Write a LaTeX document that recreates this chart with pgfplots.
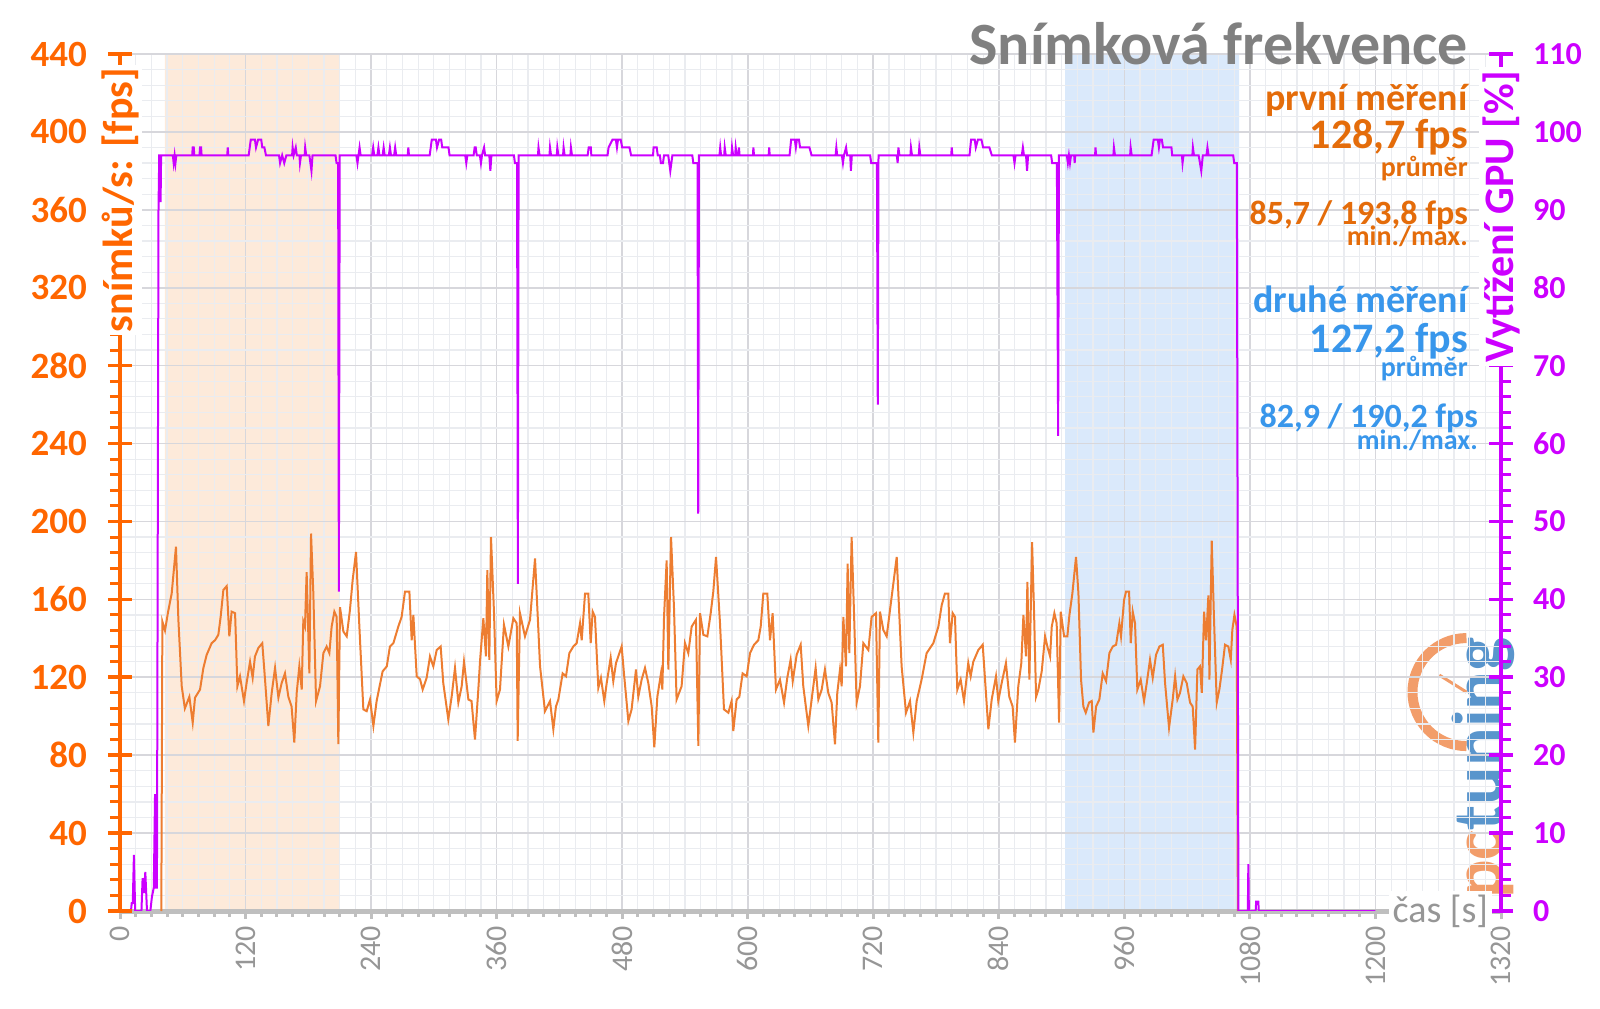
\documentclass[border=0pt]{standalone}
\usepackage{fontspec}
\setmainfont{Carlito}
\usepackage{pgfplots}
\pgfplotsset{compat=1.18}

\definecolor{orng}{RGB}{255,102,0}
\definecolor{annor}{RGB}{228,108,10}
\definecolor{annbl}{RGB}{56,150,235}
\definecolor{mag}{RGB}{204,0,255}
\definecolor{fpsc}{RGB}{237,125,49}
\definecolor{shor}{RGB}{253,234,218}
\definecolor{shbl}{RGB}{218,233,251}
\definecolor{gridmaj}{RGB}{215,215,220}
\definecolor{gridmin}{RGB}{234,236,240}
\definecolor{axgray}{RGB}{191,191,191}
\definecolor{xlab}{RGB}{150,150,150}
\definecolor{ttl}{RGB}{128,128,128}
\definecolor{logoor}{RGB}{240,140,80}
\definecolor{logobl}{RGB}{60,130,195}

\newcommand\fs[1]{\fontsize{#1}{#1}\selectfont}

\pgfplotsset{base/.style={at={(0,0)}, anchor=south west, scale only axis,
    width=690.5bp, height=428.5bp, xmin=0, xmax=1320,
    /pgf/number format/assume math mode=true, /pgf/number format/1000 sep={}}}

\begin{document}
\begin{tikzpicture}
\useasboundingbox (-60bp,-49bp) rectangle (740bp,455.5bp);

% measured intervals (background)
\begin{axis}[base, ymin=0, ymax=440, hide axis, clip=false]
\addplot[draw=none, fill=shor] coordinates {(43,0)(43,440)(209.3,440)(209.3,0)} \closedcycle;
\addplot[draw=none, fill=shbl] coordinates {(903.3,0)(903.3,440)(1069.6,440)(1069.6,0)} \closedcycle;
\node[rotate=90, anchor=west, inner sep=0, opacity=0.85, font=\fs{36bp}\bfseries]
  at (axis cs:1303,6) {\textcolor{logoor}{pc}\textcolor{logobl}{tuning}};
\draw[logoor, line width=5bp, opacity=0.85] (axis cs:1287,112.4) ++(90:27bp) arc[start angle=90, end angle=270, radius=27bp];
\draw[logoor, line width=1.5bp, opacity=0.85] (axis cs:1287,112.4) -- ++(148:16bp);
\end{axis}

% grid, time axis, fps
\begin{axis}[base, ymin=0, ymax=440,
    axis x line*=bottom, axis y line*=left,
    x axis line style={draw=axgray, line width=2.5bp, -},
    y axis line style={draw=none},
    xtick={0,120,...,1320}, ytick={0,40,...,440},
    minor x tick num=7, minor y tick num=4,
    grid=both,
    major grid style={draw=gridmaj, line width=0.8bp},
    minor grid style={draw=gridmin, line width=0.6bp},
    tick align=outside, major tick length=4bp,
    xtick style={draw=axgray, line width=1.5bp},
    ytick style={draw=none},
    minor tick style={draw=none},
    yticklabels={},
    xticklabel style={rotate=90, anchor=east, font=\fs{15bp}, text=xlab},
]
\addplot[fpsc, line width=1bp] coordinates {
(39.5,0)(40.5,148.6)(43,144)(46,153.7)(49.4,163)(53.5,187)(55.8,149.5)(59,115.4)(62,104)(66.3,110)(69.5,96.7)(71.7,109.5)(76.5,113.7)(79.7,124.8)(82.9,131.6)(87.6,137.5)(90.8,139)(94,141.8)(96.2,151)(98.8,164.8)(102,166.8)(104.5,141)(106.7,153.7)(110,152.9)(112.2,115.4)(114.7,120.5)(118.5,107.8)(121,117)(124.3,128)(126.8,119.7)(129,130.7)(132.2,135)(136,137.5)(138.6,119)(141.8,95)(145,112)(148.2,124.8)(151.4,109.5)(154.5,117)(157.7,122)(160.9,110)(164,105)(166.6,86.5)(168.9,112)(171.4,125.6)(173.7,113.7)(175.2,148.6)(176.8,146)(178.4,174)(181,122)(182.6,193.8)(184.8,163)(187.4,107.8)(191.2,115.4)(194.4,132.4)(197.5,135.8)(200.1,132.4)(202.3,146)(204.9,153.7)(207.1,151)(208.7,85.7)
(210.3,156)(213.5,143.5)(216.7,141)(219.8,154.6)(222.4,170)(225.6,184.3)(228.8,146)(232.6,103.5)(235.8,102.6)(239,108.6)(242.2,95)(245.3,107.8)(251,123)(255,125.6)(258,135.8)(261.3,137.5)(266,146)(269.2,151)(272.4,164)(276.6,164)(278.8,139)(280.4,152)(283.6,120.5)(286.8,119)(289.3,113.7)(293.1,119.7)(296.3,130.7)(299.5,125.6)(302.7,134)(306.5,135.8)(309,117)(313.8,98.4)(317,110)(320.2,124.8)(323.4,107)(326.6,115.4)(328.8,128)(333,108.6)(336,107.8)(339.3,88)(342.5,113.7)(344.1,128)(347.3,150.3)(349.8,130.7)(351.1,175)(353,129)(354.6,192)(357.5,152.9)(360,107.8)(363.2,113.7)(367,147)(371.2,135.8)(376,150.3)(379.2,147.7)(380.1,87.3)
(382.3,152.9)(387.1,141)(391.9,149.5)(396.7,181)(401.5,125.6)(406.2,102.6)(411,107.8)(414.2,93.3)(416.7,105)(419,108.6)(423.1,122)(426.3,120.5)(429.5,132.4)(433.3,135.8)(436.5,137.5)(439.7,147.7)(441.3,139)(444.5,163)(447.6,163)(449.9,137.5)(451.8,153.7)(454,151)(457.2,114.6)(459.7,119.7)(462.9,107.8)(465.2,117)(469,130)(471.5,118)(474.1,127.3)(479.5,135.8)(481.7,122)(485.9,97.5)(489,103.5)(493.2,124)(495.4,110)(498.6,118.8)(501.8,124.8)(505,117)(508.2,105)(510.7,84)(513.6,110)(517.1,122)(518.4,113.7)(520,151)(522.5,180)(524.1,124)(526.7,192)(529.5,156)(532,108.6)(536.8,115.4)(540,137.5)(543.2,132.4)(546.4,146)(550.5,149.5)(552.8,84.8)
(554.4,152.9)(557.6,141.8)(561.4,141)(564.6,152.9)(567.1,164)(569.7,181.8)(573.5,147.7)(577.3,103.5)(581.5,101.8)(584.6,107.8)(586.2,92.4)(589.4,108.6)(592,110)(595.1,122)(599,120.5)(602.2,132.4)(606,136.7)(610.1,139)(612.4,146)(614.9,163)(618.7,163)(621.3,139)(623.8,152.9)(627,113.7)(630.8,118.8)(634.7,107)(637.8,119.7)(641,129)(643,118)(646.8,131.6)(650.6,136.7)(653.1,115.4)(657.9,95)(661.1,108.6)(664.9,124.8)(667.5,108.6)(670.7,113.7)(673.8,124)(677,112)(680.2,107)(683.4,85.6)(685.6,112)(688.2,124)(689.8,115.4)(691.4,151)(693.9,125.6)(695.5,178.4)(697.1,132.4)(699.3,192)(701.6,152.9)(704.1,107)(707.3,115.4)(710.5,137.5)(715.3,134)(718.4,151)(722.6,152.9)(724.8,86.5)
(726.4,153.7)(729.6,144.3)(732.8,141)(736,154.6)(742.4,181.8)(747.1,125.6)(751.3,101.8)(755.1,107.8)(758.3,91.6)(761.5,107.8)(766.2,118.8)(771,132.4)(777.4,137.5)(782.2,146)(785.4,157)(788.5,163)(791.7,163)(793.3,137.5)(795.9,152.9)(798.1,151)(800.3,113.7)(803.5,118.8)(806.7,107.8)(810.8,127.3)(813.1,120.5)(815.6,128)(820.4,134)(824.6,136.7)(826.8,119)(830,93.3)(833.2,108.6)(837.3,120.5)(839.5,107.8)(842.7,117)(846.8,127.3)(850,110)(853.2,105)(855.4,86.5)(858.6,115.4)(861.5,127.3)(863.5,152)(866,130.7)(867.3,169)(869.2,118.8)(871.8,189.4)(873.7,152.9)(875.6,110)(877.8,113.7)(881,123)(884.2,141)(886.4,135.8)(889,130.7)(890.6,146)(893.1,152.9)(895.3,147.7)(897.6,96.7)
(899.2,153.7)(902.4,141)(905.5,141)(907.5,152)(910.3,163)(913.8,181.8)(916.1,163)(918.6,118.8)(920.8,105)(923.1,101.8)(926.2,107)(928.8,107.8)(930.4,91.6)(933,105)(936.1,108.6)(939.3,122)(942.5,118)(945.7,132.4)(948.9,135.8)(952.1,136.7)(955.2,147.7)(956.8,141)(959.7,159.7)(961.6,164)(964.5,164)(966.1,137.5)(968,153.7)(970.2,147.7)(972.4,113.7)(975.6,118.8)(978.8,107.8)(981.4,117)(984.5,129)(987.1,119.7)(990.3,131.6)(993.5,135.8)(996.7,136.7)(998.9,117)(1002.7,94.1)(1006.2,108.6)(1008.5,120.5)(1010.7,108.6)(1013.2,112)(1016.4,120.5)(1019.6,117)(1022.8,107)(1025.3,105)(1027.6,82.9)(1029.8,124)(1032.3,125.6)(1034,112)(1036.2,153.7)(1038.1,139)(1040.3,162)(1041.3,118.8)(1043.5,190.2)(1045.7,149.5)(1048.3,107)(1050.8,113.7)(1053.4,124)(1056.2,136.7)(1059.4,135.8)(1061.7,129)(1063.2,144.3)(1065.2,152)(1067.4,146)(1068.5,0)
};
\end{axis}

% GPU load, right axis
\begin{axis}[base, ymin=0, ymax=110, hide x axis, axis y line*=right,
    y axis line style={draw=mag, line width=2bp, -},
    ytick={0,10,...,110}, minor y tick num=4,
    tick align=center, major tick length=12bp, minor tick length=5bp,
    ytick style={draw=mag, line width=1.8bp},
    minor y tick style={draw=mag, line width=1.5bp, xshift=2.5bp},
    yticklabel style={font=\fs{16bp}\bfseries, text=mag, xshift=6.5bp},
]
\addplot[mag, line width=1bp] coordinates {
(0,0)(10.5,0)(11.2,1)(12.2,1)(13.3,7.2)(14.5,0)(20.5,0)(21.6,4.2)(22.9,2.3)(24.2,5)(25.8,0)(29,0)(30.5,1.8)(32.3,3)(33.5,15)(34.3,3)(35.3,3)(36.8,90)(37.5,97)(38.3,97)(38.8,91)(39.3,97)(50.5,97)(51.3,96)(52.2,97)(53,96)(53.8,97)(69,97)(69.5,98)(70.5,98)(71,97)(76,97)(76.5,98)(77.5,98)(78,97)(102.5,97)(103,98)(103.5,97)(123,97)(124,98)(125,99)(129,99)(130,98)(132,99)(135,99)(136,98)(138,98)(139.5,97)(152,97)(153,96)(155,97)(157,96)(159,97)(164.5,97)(165,98)(166,97)(168,98)(169,97)(171.5,97)(172,96)(173,97)(176.5,97)(177,98)(178,97)(181,97)(183,95)(184,97)(206,97)(207,96)(208.5,96)(209.2,41)(210,97)
(226,97)(227,96)(228,97)(229,98)(230,97)(241,97)(242,98)(243,97)(246,97)(247,98)(248,97)(251,97)(252,98)(253,97)(257,97)(258,98)(259,97)(262,97)(263,98)(264,97)(275,97)(275.6,98)(276.2,97)(296,97)(297,98)(298,99)(302,99)(303,98)(305,99)(307,99)(308,98)(314,98)(315,97)(330,97)(331,96)(332,97)(338,97)(339,98)(340,98)(341,97)(344,97)(345,96)(346,97)(348,98)(349,97)(353,97)(354,95)(355,97)(376.5,97)(377.5,96)(379.5,96)(380.3,42)(381,97)
(399.5,97)(400,98)(401,97)(410.5,97)(411,98)(412,97)(417.5,97)(418,98)(419,97)(423.5,97)(424,98)(425,97)(430.5,97)(431,98)(432,97)(447,97)(448,98)(450,98)(450.5,97)(466,97)(467,98)(470.7,99)(474,99)(475,98)(476,99)(478.6,99)(480,98)(487,98)(488.5,97)(509.5,97)(510,98)(513,98)(514,97)(516,97)(517,96)(519,96)(520,97)(524,97)(526,95)(528,97)(547,97)(548,96)(552,96)(552.7,51)(553.4,97)
(573,97)(573.7,98)(574.5,97)(577.5,97)(578,98)(579,97)(584.5,97)(585,98)(586,97)(588,97)(588.5,98)(589.5,97)(591,97)(591.6,98)(592.2,97)(605,97)(605.4,98)(606,97)(620,97)(620.5,98)(621,97)(640,97)(641.5,99)(645,99)(646,98)(647,99)(649,99)(650,98)(659,98)(661,97)(684,97)(684.7,98)(685.5,97)(690,97)(691,96)(692,97)(694,98)(695,97)(698,97)(698.6,95)(699.5,97)(717,97)(718,96)(723.5,96)(724.3,65)(725,97)
(742.5,97)(743.3,96)(744,98)(745,97)(755.5,97)(756,98)(757,97)(763.5,97)(764,98)(765,97)(794.5,97)(795,98)(795.6,97)(812,97)(813.5,99)(817,99)(818,98)(820,99)(823.4,99)(825,98)(831,98)(833.3,97)(854,97)(855,96)(856,97)(862,97)(863,98)(864,97)(866,97)(867,95)(868,97)(890,97)(891,96)(895.5,96)(896.7,61)(897.5,97)
(905,97)(906,96)(907,97)(908,96)(909,97)(912,97)(912.5,96)(913,97)(932,97)(932.4,98)(933,97)(949.5,97)(950,98)(951,97)(965.5,97)(966,98)(967,97)(986,97)(988,99)(992,99)(993,98)(994,99)(995.8,99)(997,98)(1005,98)(1005.7,97)(1015,97)(1015.6,96)(1016.5,97)(1025,97)(1025.5,98)(1026.5,97)(1031,97)(1033.5,95)(1035,97)(1038.5,97)(1039.4,98)(1040.5,97)(1064,97)(1065,96)(1067.5,96)(1069,0)(1078,0)(1078.5,6)(1079,0)(1085.5,0)(1086,1.2)(1088,1.2)(1088.5,0)(1200,0)
};
\end{axis}

% fps axis on the left, texts
\begin{axis}[base, ymin=0, ymax=440, hide x axis, axis y line*=left,
    y axis line style={draw=orng, line width=2bp, -},
    ytick={0,40,...,440}, minor y tick num=4,
    tick align=center, major tick length=12bp, minor tick length=5bp,
    ytick style={draw=orng, line width=1.8bp},
    minor y tick style={draw=orng, line width=1.5bp, xshift=-2.5bp},
    yticklabel style={font=\fs{18.5bp}\bfseries, text=orng, xshift=-7bp},
    clip=false,
]
\node[rotate=90, anchor=east, fill=white, inner sep=1.5bp, text=orng, font=\fs{21bp}\bfseries]
  at (axis cs:0,434.5) {snímků/s: [fps]};
\node[rotate=90, anchor=east, fill=white, inner sep=1.5bp, text=mag, font=\fs{21bp}\bfseries]
  at (axis cs:1320,433.3) {Vytížení GPU [\%]};
\node[fill=white, inner sep=2bp, text=xlab, font=\fs{19bp}] at (axis cs:1262,0) {čas [s]};

\node[anchor=base east, inner sep=0, text=ttl, font=\fs{30bp}\bfseries] at (axis cs:1288.6,434.4) {Snímková frekvence};
\node[anchor=base east, inner sep=0, text=annor, font=\fs{19bp}\bfseries] at (axis cs:1288.6,411.2) {první měření};
\node[anchor=base east, inner sep=0, text=annor, font=\fs{21bp}\bfseries] at (axis cs:1288.6,391.7) {128,7 fps};
\node[anchor=base east, inner sep=0, text=annor, font=\fs{14bp}\bfseries] at (axis cs:1288.6,377) {průměr};
\node[anchor=base east, inner sep=0, text=annor, font=\fs{17bp}\bfseries] at (axis cs:1288.6,352.7) {85,7 / 193,8 fps};
\node[anchor=base east, inner sep=0, text=annor, font=\fs{14bp}\bfseries] at (axis cs:1288.6,341.8) {min./max.};
\node[anchor=base east, inner sep=0, text=annbl, font=\fs{19bp}\bfseries] at (axis cs:1288.6,307.5) {druhé měření};
\node[anchor=base east, inner sep=0, text=annbl, font=\fs{21bp}\bfseries] at (axis cs:1288.6,287) {127,2 fps};
\node[anchor=base east, inner sep=0, text=annbl, font=\fs{14bp}\bfseries] at (axis cs:1288.6,274.2) {průměr};
\node[anchor=base east, inner sep=0, text=annbl, font=\fs{17bp}\bfseries] at (axis cs:1298.2,248) {82,9 / 190,2 fps};
\node[anchor=base east, inner sep=0, text=annbl, font=\fs{14bp}\bfseries] at (axis cs:1298.2,237) {min./max.};
\end{axis}
\end{tikzpicture}
\end{document}
